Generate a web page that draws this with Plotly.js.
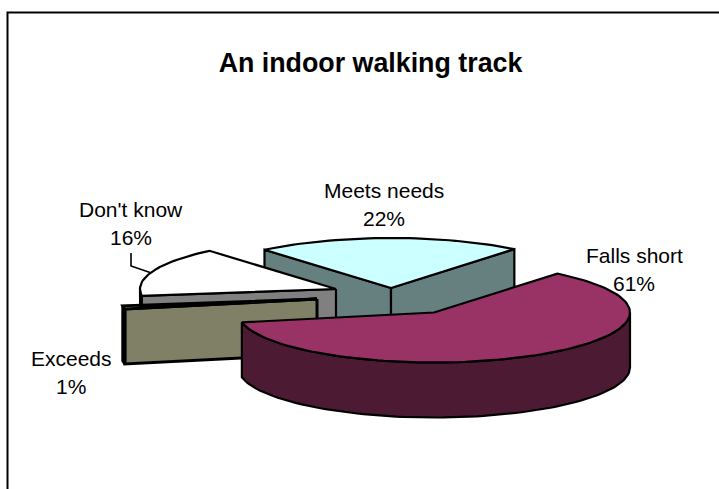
<!DOCTYPE html>
<html><head><meta charset="utf-8">
<script src="https://cdn.plot.ly/plotly-3.0.1.min.js"></script>
<style>html,body{margin:0;padding:0;background:#fff;overflow:hidden}</style>
</head><body><div id="chart" style="width:719px;height:489px"></div>
<script>
// Data, clockwise from the first slice
var categories = ["Falls short", "Exceeds", "Don't know", "Meets needs"];
var values = [61, 1, 16, 22];
var chartTitle = "An indoor walking track";

// Styles and layout, in page pixels
var topColors = ["#993366", "#FFFFCC", "#FFFFFF", "#CCFFFF"];
var sideColors = ["#4D1A33", "#808066", "#808080", "#668080"];
var lineWidths = [2.2, 3, 2.2, 2.2];
var centersX = [434, 317, 336, 391];
var centersY = [312.5, 299, 289, 288];
var labelX = [634, 71, 131, 384];
var labelY = [255, 358, 209, 190];
var leaderX = [131, 131, 150];
var leaderY = [253, 266, 272.5];
var startAngle = 39, rx = 196, ry = 50, depth = 55;

function rim(i, deg) {
  var a = deg * Math.PI / 180;
  return [centersX[i] + rx * Math.sin(a), centersY[i] - ry * Math.cos(a)];
}
function arc(i, a0, a1) {
  var pts = [], n = Math.max(2, Math.ceil(Math.abs(a1 - a0) / 2));
  for (var k = 0; k <= n; k++) pts.push(rim(i, a0 + (a1 - a0) * k / n));
  return pts;
}
function poly(pts, color, w) {
  var xs = pts.map(function (p) { return p[0]; });
  var ys = pts.map(function (p) { return p[1]; });
  xs.push(xs[0]); ys.push(ys[0]);
  return { type: "scatter", mode: "lines", x: xs, y: ys, fill: "toself", fillcolor: color,
           line: { color: "#000", width: w, shape: "linear" }, hoverinfo: "skip", showlegend: false };
}
function down(pts) { return pts.map(function (p) { return [p[0], p[1] + depth]; }); }

var spans = [], acc = startAngle, total = values.reduce(function (a, b) { return a + b; }, 0);
values.forEach(function (v) { spans.push([acc, acc + v / total * 360]); acc += v / total * 360; });

function slice(i) {
  var a0 = spans[i][0], a1 = spans[i][1], c = [centersX[i], centersY[i]], w = lineWidths[i];
  var tr = [];
  var e0 = rim(i, a0), e1 = rim(i, a1);
  // cut faces seen from the front
  if (i === 3) {
    tr.push(poly([c, e0].concat(down([e0, c])), sideColors[i], w));
    tr.push(poly([c, e1].concat(down([e1, c])), sideColors[i], w));
  } else if (i === 1 || i === 2) {
    tr.push(poly([c, e0].concat(down([e0, c])), sideColors[i], w));
  }
  // outer wall where the rim is on the near half
  var w0 = Math.max(a0, 90), w1 = Math.min(a1, 270);
  if (w1 > w0) {
    var top = arc(i, w0, w1);
    tr.push(poly(top.concat(down(top).reverse()), sideColors[i], w));
  }
  tr.push(poly([c].concat(arc(i, a0, a1)), topColors[i], w));
  return tr;
}

var order = [3, 2, 1, 0], traces = [];
order.forEach(function (i) { traces = traces.concat(slice(i)); });
traces.push({ type: "scatter", mode: "lines", x: leaderX, y: leaderY,
  line: { color: "#000", width: 1.6 }, hoverinfo: "skip", showlegend: false });

var font = { family: "Liberation Sans, Arial, sans-serif", size: 21, color: "#000" };
var annotations = [];
categories.forEach(function (c, i) {
  annotations.push({ x: labelX[i], y: labelY[i], xref: "x", yref: "y", text: c, showarrow: false, font: font, xanchor: "center", yanchor: "middle" });
  annotations.push({ x: labelX[i], y: labelY[i] + 28.5, xref: "x", yref: "y", text: values[i] + "%", showarrow: false, font: font, xanchor: "center", yanchor: "middle" });
});

var layout = {
  width: 719, height: 489, margin: { l: 0, r: 0, t: 0, b: 0 },
  paper_bgcolor: "#fff", plot_bgcolor: "#fff", showlegend: false,
  title: { text: "<b>" + chartTitle + "</b>", x: 370.5 / 719, y: 1 - 63 / 489, xanchor: "center", yanchor: "middle",
           font: { family: "Liberation Sans, Arial, sans-serif", size: 26.8, color: "#000" } },
  xaxis: { range: [0, 719], visible: false, fixedrange: true },
  yaxis: { range: [489, 0], visible: false, fixedrange: true },
  annotations: annotations,
  shapes: [{ type: "path", xref: "x", yref: "y", path: "M 7.5 489 L 7.5 12.5 L 719 12.5", line: { color: "#000", width: 2 } }]
};
Plotly.newPlot("chart", traces, layout, { displayModeBar: false, staticPlot: true });
</script></body></html>
